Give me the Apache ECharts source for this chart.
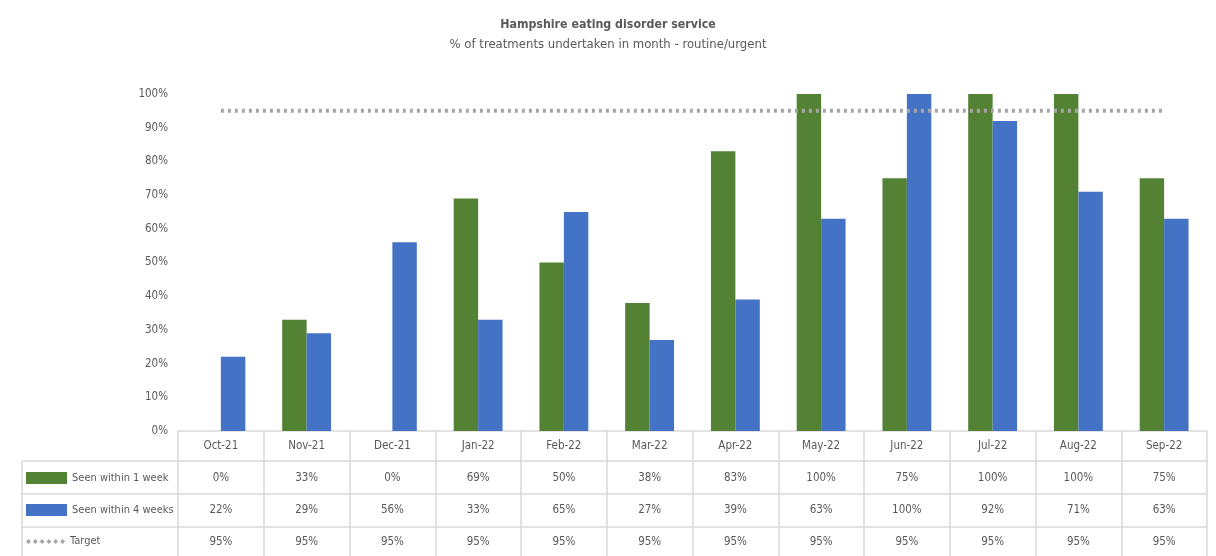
<!DOCTYPE html>
<html><head><meta charset="utf-8">
<script src="https://cdn.jsdelivr.net/npm/echarts@6/dist/echarts.min.js"></script>
<style>html,body{margin:0;padding:0;background:#fff}#c{width:1216px;height:556px}</style>
</head><body><div id="c"></div>
<script>
var months = ['Oct-21','Nov-21','Dec-21','Jan-22','Feb-22','Mar-22','Apr-22','May-22','Jun-22','Jul-22','Aug-22','Sep-22'];
var seen1 = [0,33,0,69,50,38,83,100,75,100,100,75];
var seen4 = [22,29,56,33,65,27,39,63,100,92,71,63];
var target = [95,95,95,95,95,95,95,95,95,95,95,95];
var yTicks = {min:0, max:100, interval:10};

var FONT = '"DejaVu Sans Condensed", "Liberation Sans", sans-serif';
var TXT = '#595959', LINE = '#D9D9D9';
var FS = 11.5;
var G = {left:178, right:9, top:94, bottom:125};
var W = 1216, H = 556;
var rowH = 33, tableLeft = 22, headerBottom = 461;

function pct(v){ return v + '%'; }
function rowAxis(arr, offset){
  return {type:'category', data:months, gridIndex:0, position:'bottom', offset:offset,
    axisLine:{show:false}, axisTick:{show:false},
    axisLabel:{interval:0, margin:9, color:TXT, fontFamily:FONT, fontSize:FS,
      formatter:function(v,i){ return pct(arr[i]); }}};
}

var chart = echarts.init(document.getElementById('c'), null, {renderer:'canvas'});
var gx = W - G.right;
var lines = [];
for (var r = 0; r < 3; r++) {
  var y = headerBottom + r*rowH;
  lines.push({type:'line', shape:{x1:tableLeft, y1:y, x2:gx, y2:y}, style:{stroke:LINE, lineWidth:1.5}, silent:true});
}
lines.push({type:'line', shape:{x1:tableLeft, y1:headerBottom, x2:tableLeft, y2:H}, style:{stroke:LINE, lineWidth:1.5}, silent:true});

var diamonds = 'path://';
for (var k = 0; k < 6; k++) { var x0 = k*7; diamonds += 'M'+x0+',2.5L'+(x0+2.5)+',0L'+(x0+5)+',2.5L'+(x0+2.5)+',5Z'; }

function leg(name, top, icon, w, h){
  return {data:[{name:name, icon:icon}], left:26, top:top, orient:'vertical', itemWidth:w, itemHeight:h, itemGap:4,
    textStyle:{color:TXT, fontFamily:FONT, fontSize:11}, selectedMode:false, padding:0};
}

chart.setOption({
  animation:false,
  textStyle:{fontFamily:FONT},
  title:{text:'Hampshire eating disorder service', subtext:'% of treatments undertaken in month - routine/urgent',
    left:'center', top:12, itemGap:4,
    textStyle:{color:TXT, fontFamily:FONT, fontSize:12.3, fontWeight:'bold', lineHeight:16},
    subtextStyle:{color:TXT, fontFamily:FONT, fontSize:13, lineHeight:16}},
  legend:[leg('Seen within 1 week', 472, 'rect', 41, 12), leg('Seen within 4 weeks', 504, 'rect', 41, 12), leg('Target', 536, diamonds, 39, 5)],
  grid:{left:G.left, right:G.right, top:G.top, bottom:G.bottom},
  xAxis:[
    {type:'category', data:months, position:'bottom',
      axisLine:{lineStyle:{color:LINE, width:1.5}},
      axisTick:{show:true, inside:false, length:125, interval:0, lineStyle:{color:LINE, width:1.5}},
      axisLabel:{interval:0, margin:9, color:TXT, fontFamily:FONT, fontSize:FS}},
    rowAxis(seen1, 32), rowAxis(seen4, 64), rowAxis(target, 96)
  ],
  yAxis:{type:'value', min:yTicks.min, max:yTicks.max, interval:yTicks.interval,
    axisLine:{show:false}, axisTick:{show:false}, splitLine:{show:false},
    axisLabel:{margin:10, color:TXT, fontFamily:FONT, fontSize:FS, formatter:'{value}%'}},
  series:[
    {name:'Seen within 1 week', type:'bar', data:seen1, barGap:'0%', barCategoryGap:'43%', itemStyle:{color:'#548235'}},
    {name:'Seen within 4 weeks', type:'bar', data:seen4, itemStyle:{color:'#4472C4'}},
    {name:'Target', type:'line', data:target, symbol:'none', z:5, itemStyle:{color:'#A5A5A5'},
      lineStyle:{color:'#A5A5A5', width:4, type:[3,4], cap:'butt'}}
  ],
  graphic:lines
});
</script></body></html>
